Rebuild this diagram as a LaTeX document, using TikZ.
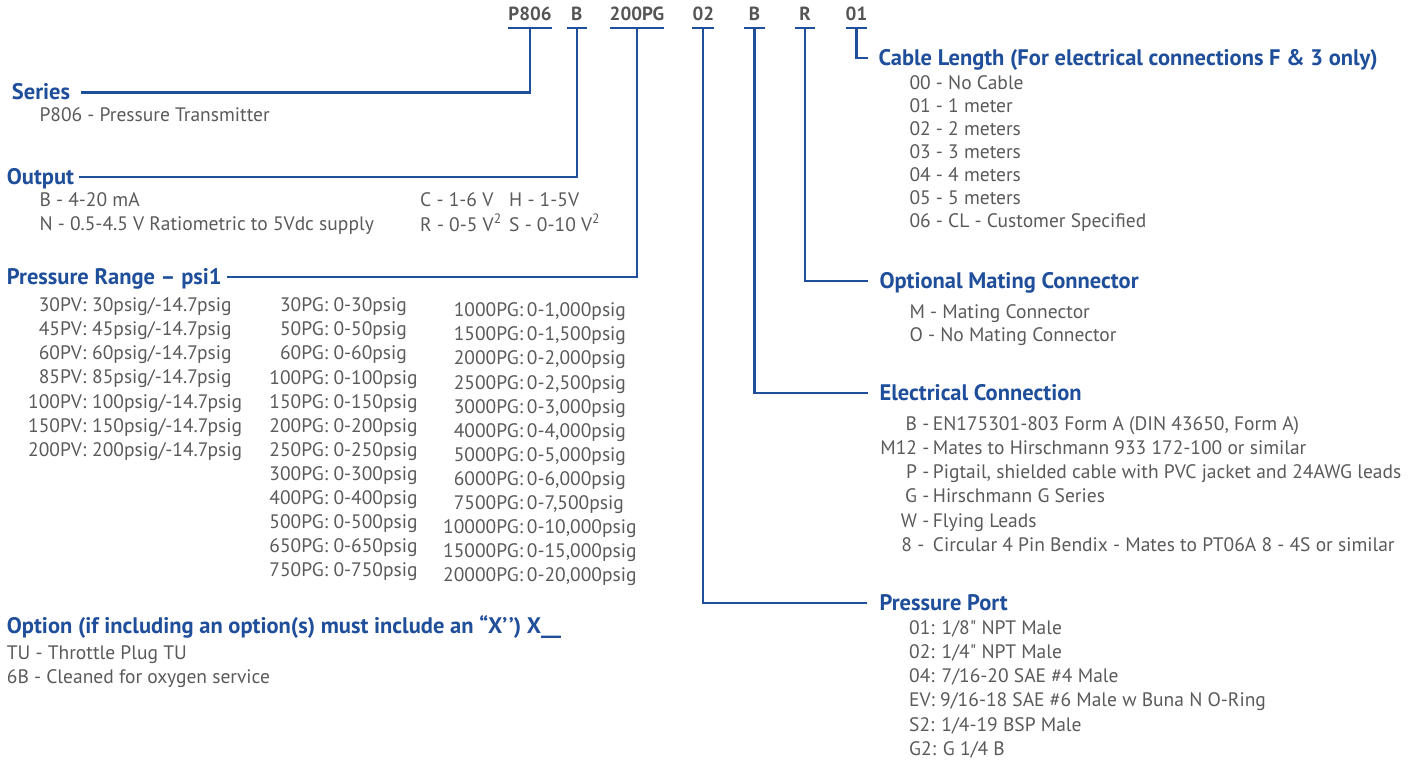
\documentclass[tikz,border=0pt]{standalone}
\usepackage{fontspec}
\setmainfont{PT Sans}

\definecolor{ordblue}{HTML}{1F4E9A}
\definecolor{ordgray}{HTML}{5A5A5A}
\definecolor{codegray}{HTML}{555555}

\newcommand{\itemfont}{\fontsize{19.5}{24}\selectfont}
\newcommand{\titlefont}{\fontsize{22.5}{27}\selectfont\bfseries}
\newcommand{\codefont}{\fontsize{19}{23}\selectfont\bfseries}
\newcommand{\rowlist}[3][24]{{\fontsize{19.5}{#1}\selectfont\begin{tabular}[t]{@{}#2@{}}#3\end{tabular}}}
\newcommand{\inch}{\XeTeXglyph\XeTeXcharglyph"22\relax}
\newcommand{\tick}{\XeTeXglyph\XeTeXcharglyph"2019\relax}

\begin{document}
\begin{tikzpicture}[x=1pt,y=-1pt]
    \tikzstyle{every node}=[inner sep=0pt]
    \tikzstyle{code}=[font=\codefont, text=codegray, anchor=base, minimum width=20pt, text depth=7pt]
    \tikzstyle{heading}=[font=\titlefont, text=ordblue, anchor=west, text height=15pt, text depth=0pt]
    \tikzstyle{entry}=[font=\itemfont, text=ordgray, anchor=base west]
    \tikzstyle{key}=[font=\itemfont, text=ordgray, anchor=base east]
    \tikzstyle{link}=[draw=ordblue, line width=2.2pt]
    \useasboundingbox (0,0) rectangle (1421,762);

    % ordering code
    \node[code] (cSeries) at (530,21) {P806};
    \node[code] (cOutput) at (576.7,21) {B};
    \node[code] (cRange) at (637,21) {200PG};
    \node[code] (cPort) at (703.3,21) {02};
    \node[code] (cElec) at (754.5,21) {B};
    \node[code] (cMate) at (805,21) {R};
    \node[code] (cCable) at (856.5,21) {01};

    \draw[link] (cSeries.south west) -- (cSeries.south east);
    \draw[link] (cOutput.south west) -- (cOutput.south east);
    \draw[link] (cRange.south west) -- (cRange.south east);
    \draw[link] (cPort.south west) -- (cPort.south east);
    \draw[link] (cElec.south west) -- (cElec.south east);
    \draw[link] (cMate.south west) -- (cMate.south east);
    \draw[link] (cCable.south west) -- (cCable.south east);

    % headings
    \node[heading] (tSeries) at (11.7,92.5) {Series};
    \node[heading] (tOutput) at (6.7,176.7) {Output};
    \node[heading] (tRange) at (6.7,276.7) {Pressure Range – psi1};
    \node[heading] (tOption) at (6.7,626) {Option (if including an option(s) must include an “X\tick\kern1.5pt\tick) X\_\_};
    \node[heading] (tCable) at (878.3,58.3) {Cable Length (For electrical connections F \& 3 only)};
    \node[heading] (tMate) at (879.3,281) {Optional Mating Connector};
    \node[heading] (tElec) at (879.3,393.3) {Electrical Connection};
    \node[heading] (tPort) at (879.3,602.7) {Pressure Port};

    \draw[link, shorten >=11pt] (cSeries.south) |- (tSeries.east);
    \draw[link, shorten >=5pt] (cOutput.south) |- (tOutput.east);
    \draw[link, shorten >=5pt] (cRange.south) |- (tRange.east);
    \draw[link, shorten >=12pt] (cPort.south) |- (tPort.west);
    \draw[link, shorten >=11pt] (cElec.south) |- (tElec.west);
    \draw[link, shorten >=11pt] (cMate.south) |- (tMate.west);
    \draw[link, shorten >=10pt] (cCable.south) |- (tCable.west);

    % left column
    \node[entry] (iSeries) at (39.3,121.5) {P806 - Pressure Transmitter};

    \node[entry] (iOutA) at (39.3,207) {\rowlist[23.5]{l}{B - 4-20 mA\\
        N - 0.5-4.5 V Ratiometric to 5Vdc supply}};
    \node[entry] (iOutB) at (420,207) {\rowlist[23.5]{l}{C - 1-6 V\\
        R - 0-5 V\textsuperscript{2}}};
    \node[entry] (iOutC) at (509,207) {\rowlist[23.5]{l}{H - 1-5V\\
        S - 0-10 V\textsuperscript{2}}};

    \node[key] (kPV) at (86.5,311) {\rowlist[24.3]{r}{30PV:\\45PV:\\60PV:\\85PV:\\
        100PV:\\150PV:\\200PV:}};
    \node[entry] (vPV) at (92,311) {\rowlist[24.3]{l}{30psig/-14.7psig\\
        45psig/-14.7psig\\60psig/-14.7psig\\85psig/-14.7psig\\
        100psig/-14.7psig\\150psig/-14.7psig\\200psig/-14.7psig}};

    \node[key] (kPGa) at (328.3,311.7) {\rowlist[24.1]{r}{30PG:\\50PG:\\60PG:\\
        100PG:\\150PG:\\200PG:\\250PG:\\300PG:\\400PG:\\500PG:\\650PG:\\750PG:}};
    \node[entry] (vPGa) at (333.3,311.7) {\rowlist[24.1]{l}{0-30psig\\0-50psig\\
        0-60psig\\0-100psig\\0-150psig\\0-200psig\\0-250psig\\0-300psig\\
        0-400psig\\0-500psig\\0-650psig\\0-750psig}};

    \node[key] (kPGb) at (523.3,316.7) {\rowlist[24.1]{r}{1000PG:\\1500PG:\\
        2000PG:\\2500PG:\\3000PG:\\4000PG:\\5000PG:\\6000PG:\\7500PG:\\
        10000PG:\\15000PG:\\20000PG:}};
    \node[entry] (vPGb) at (526.7,316.7) {\rowlist[24.1]{l}{0-1,000psig\\
        0-1,500psig\\0-2,000psig\\0-2,500psig\\0-3,000psig\\0-4,000psig\\
        0-5,000psig\\0-6,000psig\\0-7,500psig\\0-10,000psig\\0-15,000psig\\
        0-20,000psig}};

    \node[entry] (iOption) at (6.7,659) {\rowlist[24]{l}{TU - Throttle Plug TU\\
        6B - Cleaned for oxygen service}};

    % right column
    \node[entry] (iCable) at (909.3,89.3) {\rowlist[23]{l}{00 - No Cable\\
        01 - 1 meter\\02 - 2 meters\\03 - 3 meters\\04 - 4 meters\\
        05 - 5 meters\\06 - CL - Customer Specified}};

    \node[entry] (iMate) at (909.3,318.3) {\rowlist[23.4]{l}{M - Mating Connector\\
        O - No Mating Connector}};

    \node[key] (kElec) at (929.5,430) {\rowlist[24.3]{r}{B -\\M12 -\\P -\\G -\\
        W -\\8 -\kern5pt}};
    \node[entry] (vElec) at (932.7,430) {\rowlist[24.3]{l}{EN175301-803 Form A (DIN 43650, Form A)\\
        Mates to Hirschmann 933 172-100 or similar\\
        Pigtail, shielded cable with PVC jacket and 24AWG leads\\
        Hirschmann G Series\\
        Flying Leads\\
        Circular 4 Pin Bendix - Mates to PT06A 8 - 4S or similar}};

    \node[entry] (iPort) at (909,634) {\rowlist[24.3]{l}{01: 1/8\inch{} NPT Male\\
        02: 1/4\inch{} NPT Male\\04: 7/16-20 SAE \#4 Male\\
        EV: 9/16-18 SAE \#6 Male w Buna N O-Ring\\
        S2: 1/4-19 BSP Male\\G2: G 1/4 B}};

\end{tikzpicture}
\end{document}
